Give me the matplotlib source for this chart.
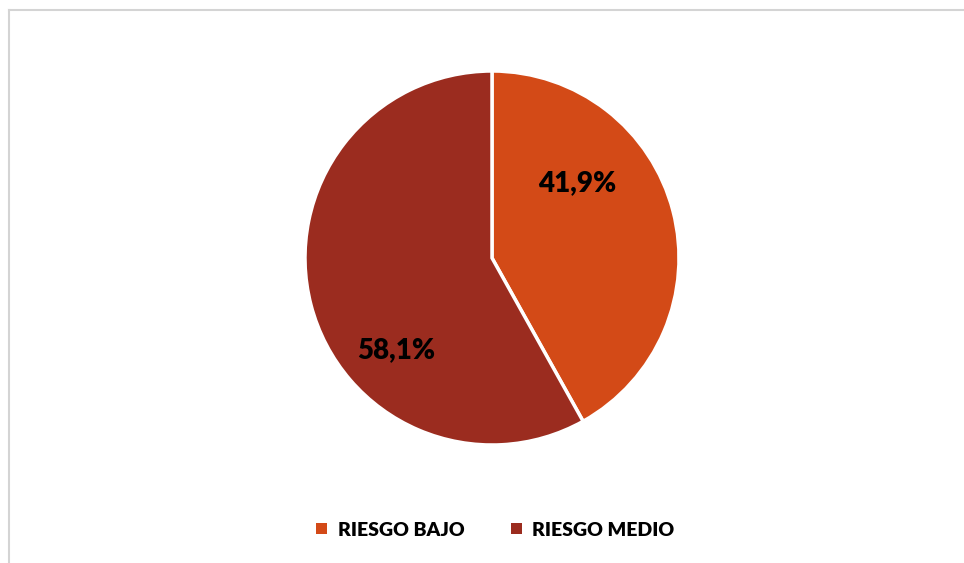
import matplotlib.pyplot as plt
from matplotlib.lines import Line2D
from matplotlib.patches import Patch

categorias = ['RIESGO BAJO', 'RIESGO MEDIO']
porcentajes = [41.9, 58.1]
colores = ['#D34A17', '#9B2C1F']

plt.rcParams['font.family'] = ['Lato', 'DejaVu Sans']

W, H = 964, 563
fig = plt.figure(figsize=(W / 100, H / 100), dpi=100)

# marco gris claro (solo arriba e izquierda visibles)
fig.add_artist(Line2D([8.5 / W, 8.5 / W], [0, 1 - 9.5 / H], color='#D4D4D4', lw=1.5))
fig.add_artist(Line2D([8.5 / W, 1], [1 - 9.5 / H, 1 - 9.5 / H], color='#D4D4D4', lw=1.5))

cx, cy, r = 492, 258, 187
ax = fig.add_axes([(cx - r) / W, (H - cy - r) / H, 2 * r / W, 2 * r / H])
wedges, _ = ax.pie(porcentajes, colors=colores, startangle=90, counterclock=False,
                   radius=1, wedgeprops=dict(edgecolor='white', linewidth=2.5))
ax.set_xlim(-1, 1)
ax.set_ylim(-1, 1)
ax.set_aspect('equal')
ax.axis('off')

pos_etiquetas = [(0.455, 0.40), (-0.51, -0.49)]
for (x, y), p in zip(pos_etiquetas, porcentajes):
    ax.text(x, y, f'{p:.1f}%'.replace('.', ','), ha='center', va='center',
            fontsize=20, fontweight='heavy', color='black')

handles = [Patch(facecolor=c, edgecolor='none') for c in colores]
fig.legend(handles, categorias, loc='center', bbox_to_anchor=(0.514, 1 - 530 / H),
           ncol=2, frameon=False, prop=dict(size=14, weight='heavy'),
           handlelength=0.55, handleheight=0.55, handletextpad=0.55, columnspacing=2.4)

fig.savefig('out.png', dpi=100)
